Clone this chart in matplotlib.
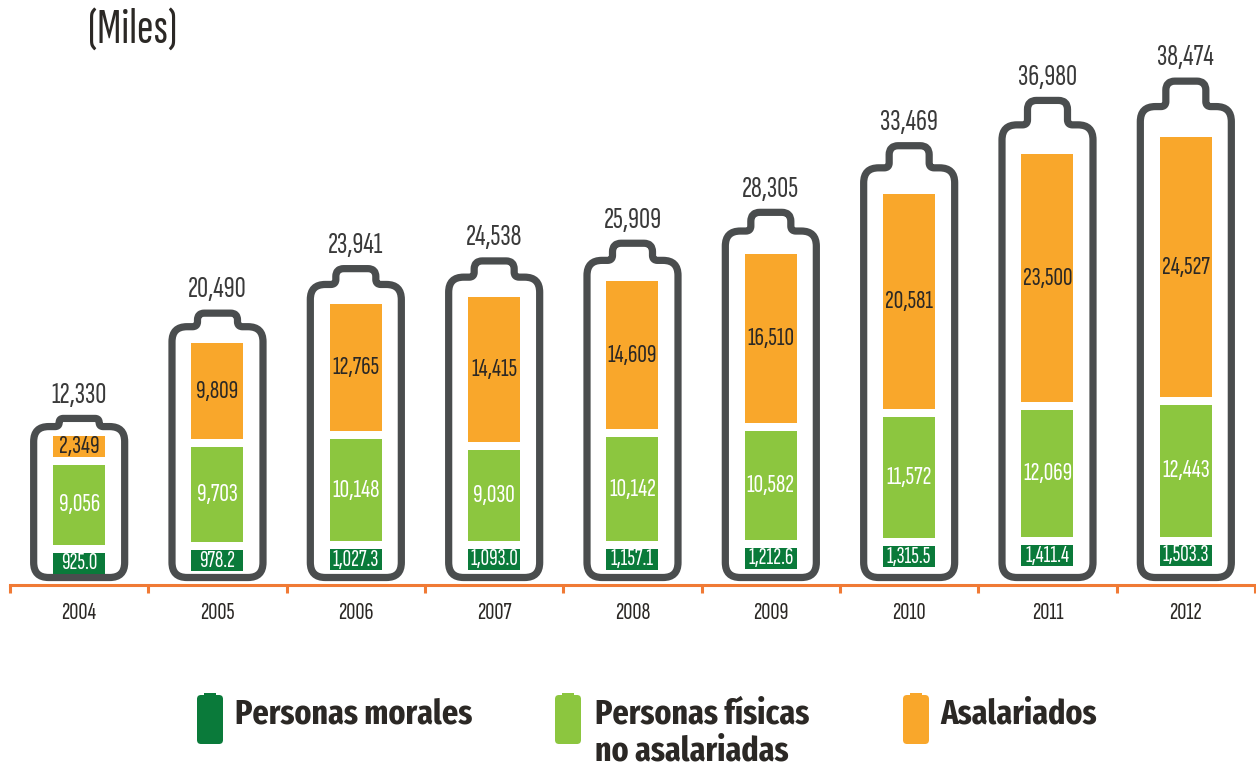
import matplotlib
matplotlib.use('Agg')
import matplotlib.pyplot as plt
from matplotlib.path import Path
from matplotlib.patches import PathPatch, FancyBboxPatch, Rectangle

plt.rcParams['font.family'] = ['Sofia Sans Extra Condensed', 'PT Sans Narrow', 'DejaVu Sans']
LEG_FONT = ['Fira Sans Extra Condensed', 'Saira ExtraCondensed', 'DejaVu Sans']

# data (miles)
years = ['2004', '2005', '2006', '2007', '2008', '2009', '2010', '2011', '2012']
morales = [925.0, 978.2, 1027.3, 1093.0, 1157.1, 1212.6, 1315.5, 1411.4, 1503.3]
fisicas = [9056, 9703, 10148, 9030, 10142, 10582, 11572, 12069, 12443]
asalariados = [2349, 9809, 12765, 14415, 14609, 16510, 20581, 23500, 24527]
totales = [12330, 20490, 23941, 24538, 25909, 28305, 33469, 36980, 38474]

c_mor = '#0a7a3a'
c_fis = '#8cc63f'
c_asa = '#f9a72b'
c_out = '#4a4d4e'
c_axis = '#f07a35'
c_txt = '#2b2825'

W, H = 12.56, 7.78
fig = plt.figure(figsize=(W, H), dpi=100)
# axes box in pixels (left, top of plot, right, axis line)
L, T, R, B = 10, 30, 1255, 585
ax = fig.add_axes([L / 1256, 1 - B / 778, (R - L) / 1256, (B - T) / 778])
YMIN, YMAX = -613, 44730
ax.set_xlim(-0.5, 8.5)
ax.set_ylim(YMIN, YMAX)

sx = 9.0 / (R - L)              # x units per pixel
sy = (YMAX - YMIN) / (B - T)    # y units per pixel


def battery(xc, top):
    hw = 45.5 * sx
    rx, ry = 15 * sx, 15 * sy
    c = 20 * sx
    h = 0.054 * top
    hp = h / sy
    cr = min(9, hp / 2)
    fr = min(5, hp / 2)
    crx, cry = cr * sx, cr * sy
    frx, fry = fr * sx, fr * sy
    verts, codes = [], []

    def mv(x, y):
        verts.append((x, y)); codes.append(Path.MOVETO)

    def ln(x, y):
        verts.append((x, y)); codes.append(Path.LINETO)

    def qc(cx, cy, x, y):
        verts.extend([(cx, cy), (x, y)]); codes.extend([Path.CURVE3, Path.CURVE3])

    mv(xc - hw + rx, 0)
    ln(xc + hw - rx, 0)
    qc(xc + hw, 0, xc + hw, ry)
    ln(xc + hw, top - ry)
    qc(xc + hw, top, xc + hw - rx, top)
    ln(xc + c + frx, top)
    qc(xc + c, top, xc + c, top + fry)
    ln(xc + c, top + h - cry)
    qc(xc + c, top + h, xc + c - crx, top + h)
    ln(xc - c + crx, top + h)
    qc(xc - c, top + h, xc - c, top + h - cry)
    ln(xc - c, top + fry)
    qc(xc - c, top, xc - c - frx, top)
    ln(xc - hw + rx, top)
    qc(xc - hw, top, xc - hw, top - ry)
    ln(xc - hw, ry)
    qc(xc - hw, 0, xc - hw + rx, 0)
    verts.append((0, 0)); codes.append(Path.CLOSEPOLY)
    ax.add_patch(PathPatch(Path(verts, codes), facecolor='white', edgecolor=c_out,
                           lw=5.2, joinstyle='round', zorder=1))
    return top + h


bw = 52 * sx
gap = 8 * sy
mor_h = 21 * sy
for i in range(len(years)):
    tot = totales[i]
    cap_top = battery(i, tot)
    pad_b = 0.025 * tot
    pad_t = 0.065 * tot
    rest = tot - pad_b - pad_t - mor_h - 2 * gap
    share = fisicas[i] / (fisicas[i] + asalariados[i])
    fh = rest * share
    ah = rest - fh
    b1 = pad_b
    b2 = b1 + mor_h + gap
    b3 = b2 + fh + gap
    ax.bar(i, mor_h, bottom=b1, width=bw, color=c_mor, zorder=2)
    ax.bar(i, fh, bottom=b2, width=bw, color=c_fis, zorder=2)
    ax.bar(i, ah, bottom=b3, width=bw, color=c_asa, zorder=2)
    ax.text(i, b1 + mor_h / 2, '{:,.1f}'.format(morales[i]), ha='center', va='center',
            color='white', fontsize=17, zorder=3)
    ax.text(i, b2 + fh / 2, '{:,}'.format(fisicas[i]), ha='center', va='center',
            color='white', fontsize=19, zorder=3)
    ax.text(i, b3 + ah / 2, '{:,}'.format(asalariados[i]), ha='center', va='center',
            color=c_txt, fontsize=19, zorder=3)
    ax.annotate('{:,}'.format(tot), (i, cap_top), xytext=(0, 7), textcoords='offset points',
                ha='center', va='bottom', color='#3a3a3a', fontsize=22)

for s in ['top', 'left', 'right']:
    ax.spines[s].set_visible(False)
ax.spines['bottom'].set_color(c_axis)
ax.spines['bottom'].set_linewidth(2.2)
ax.set_yticks([])
ax.set_xticks(range(len(years)))
ax.set_xticklabels(years, fontsize=18, color=c_txt)
ax.tick_params(axis='x', which='major', length=0, pad=12)
ax.set_xticks([i - 0.5 for i in range(len(years) + 1)], minor=True)
ax.tick_params(axis='x', which='minor', length=6, width=2.2, color=c_axis, direction='out')

fig.text(88 / 1256, 1 - 31 / 778, '(Miles)', fontsize=36, color=c_txt, va='center', ha='left')

# legend
leg = [('Personas morales', c_mor, 197, 235),
       ('Personas físicas\nno asalariadas', c_fis, 555, 595),
       ('Asalariados', c_asa, 903, 940)]
asp = 1256 / 778
for lab, col, ix, tx in leg:
    fig.add_artist(FancyBboxPatch((ix / 1256, 1 - 744 / 778), 26 / 1256, 49 / 778,
                                  boxstyle='round,pad=0,rounding_size=%f' % (4 / 1256),
                                  mutation_aspect=asp, transform=fig.transFigure,
                                  facecolor=col, edgecolor='none'))
    fig.add_artist(Rectangle(((ix + 7) / 1256, 1 - 696 / 778), 12 / 1256, 3 / 778,
                             transform=fig.transFigure, facecolor=col, edgecolor='none'))
    fig.text(tx / 1256, 1 - 697 / 778, lab, fontsize=25, fontweight='bold', color=c_txt,
             family=LEG_FONT, va='top', ha='left', linespacing=1.15)

fig.savefig('out.png', dpi=100)
